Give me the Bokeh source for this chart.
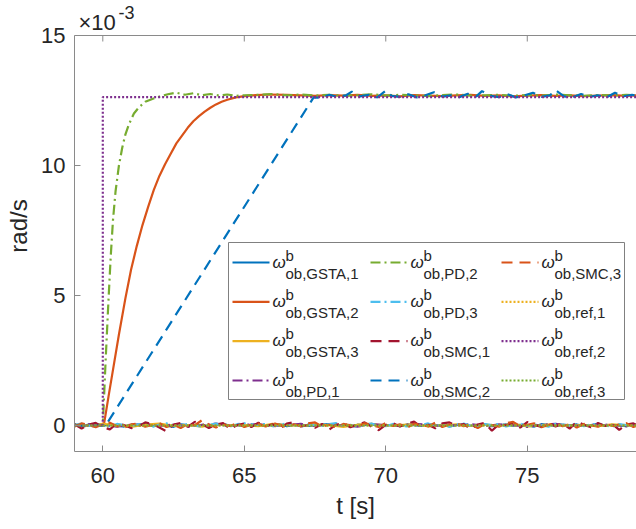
from bokeh.plotting import figure
from bokeh.models import (FixedTicker, Label, Arrow, BoxAnnotation, Span, Range1d)
from bokeh.embed import file_html
from bokeh.resources import INLINE

# ---------------- data (values in units of 1e-3 rad/s) ----------------
x_ticks = [60, 65, 70, 75]
y_ticks = [0, 5, 10, 15]
y_top = 15

t_n = [59.0, 59.25, 59.5, 59.75, 60.0, 60.25, 60.5, 60.75, 61.0,
       61.25, 61.5, 61.75, 62.0, 62.25, 62.5, 62.75, 63.0, 63.25,
       63.5, 63.75, 64.0, 64.25, 64.5, 64.75, 65.0, 65.25, 65.5,
       65.75, 66.0, 66.25, 66.5, 66.75, 67.0, 67.25, 67.5, 67.75,
       68.0, 68.25, 68.5, 68.75, 69.0, 69.25, 69.5, 69.75, 70.0,
       70.25, 70.5, 70.75, 71.0, 71.25, 71.5, 71.75, 72.0, 72.25,
       72.5, 72.75, 73.0, 73.25, 73.5, 73.75, 74.0, 74.25, 74.5,
       74.75, 75.0, 75.25, 75.5, 75.75, 76.0, 76.25, 76.5, 76.75,
       77.0, 77.25, 77.5, 77.75, 78.0, 78.25, 78.5, 78.75, 79.0]

gsta1 = [0.02, -0.03, 0.04, 0.01, -0.02, 0.05, 0.00, -0.04, 0.03,
         0.01, 0.05, -0.02, 0.03, 0.00, -0.05, 0.04, 0.02, -0.01,
         0.03, -0.04, 0.02, 0.06, -0.01, 0.02, -0.03, 0.04, 0.00,
         -0.02, 0.03, 0.05, -0.03, 0.01, 0.04, -0.02, 0.00, 0.03,
         0.05, -0.01, 0.02, -0.04, 0.03, 0.01, 0.06, -0.02, 0.00,
         0.02, -0.03, 0.04, 0.01, -0.02, 0.05, 0.00, 0.03, -0.04,
         0.01, 0.04, -0.02, 0.02, 0.05, -0.03, 0.01, 0.04, -0.01,
         0.03, 0.00, -0.04, 0.05, 0.02, -0.02, 0.03, 0.01, 0.04,
         -0.02, 0.02, 0.05, -0.01, 0.03, 0.00, -0.03, 0.04, 0.01]

pd3 = [0.03, 0.07, -0.02, 0.05, 0.00, -0.04, 0.06, 0.02, -0.03,
       0.05, 0.01, -0.06, 0.04, 0.08, 0.02, -0.03, 0.06, 0.00,
       -0.05, 0.03, 0.07, 0.01, -0.04, 0.05, 0.09, -0.02, 0.04,
       0.06, -0.03, 0.02, 0.08, 0.03, -0.05, 0.04, 0.01, -0.02,
       0.05, 0.09, -0.01, 0.03, -0.06, 0.04, 0.07, 0.00, -0.03,
       0.06, 0.02, -0.04, 0.05, 0.01, 0.08, -0.02, 0.03, -0.05,
       0.04, 0.07, 0.00, -0.03, 0.05, 0.02, 0.06, -0.04, 0.03,
       0.08, -0.02, 0.04, 0.01, -0.05, 0.06, 0.03, -0.01, 0.05,
       -0.03, 0.04, 0.07, 0.00, -0.04, 0.05, 0.02, 0.06, -0.02]

smc1 = [0.05, -0.12, 0.03, 0.10, -0.06, -0.15, 0.08, 0.02, -0.10,
        -0.04, 0.12, 0.06, -0.08, -0.22, 0.04, 0.10, -0.05, 0.14,
        0.06, -0.10, 0.03, 0.09, -0.14, 0.02, 0.08, -0.06, 0.11,
        -0.03, 0.05, -0.12, 0.07, 0.13, -0.04, 0.02, -0.09, 0.06,
        -0.16, 0.03, 0.10, -0.07, 0.04, 0.12, -0.05, -0.18, 0.02,
        0.09, -0.04, 0.07, 0.15, -0.06, 0.03, -0.11, 0.08, 0.12,
        -0.03, 0.06, -0.14, 0.04, 0.10, -0.20, 0.05, 0.01, 0.09,
        -0.08, 0.13, 0.02, -0.06, 0.11, -0.04, 0.07, -0.12, 0.15,
        0.03, -0.07, 0.10, -0.02, 0.06, -0.17, 0.04, 0.08, -0.05]

smc3 = [-0.04, 0.08, 0.02, -0.07, 0.05, 0.11, -0.03, -0.09, 0.04,
        0.07, -0.05, 0.02, 0.09, -0.06, 0.03, -0.10, 0.06, 0.01,
        0.20, 0.04, -0.08, 0.05, -0.02, 0.09, -0.06, 0.03, 0.07,
        -0.04, 0.10, 0.02, -0.07, 0.05, -0.03, 0.08, 0.12, -0.05,
        0.03, -0.08, 0.06, 0.01, -0.05, 0.09, 0.02, -0.06, 0.10,
        -0.02, 0.05, -0.09, 0.07, 0.03, -0.04, 0.11, -0.06, 0.04,
        0.08, -0.03, 0.05, -0.10, 0.06, 0.02, -0.05, 0.09, 0.14,
        -0.04, 0.03, 0.08, -0.07, 0.02, 0.10, -0.03, 0.05, -0.08,
        0.06, 0.01, -0.05, 0.08, -0.02, 0.04, 0.09, -0.06, 0.03]

t_h = [59.0, 59.5, 60.0, 60.5, 61.0, 61.5, 62.0, 62.5, 63.0, 63.5,
       64.0, 64.5, 65.0, 65.5, 66.0, 66.5, 67.0, 67.5, 68.0, 68.5,
       69.0, 69.5, 70.0, 70.5, 71.0, 71.5, 72.0, 72.5, 73.0, 73.5,
       74.0, 74.5, 75.0, 75.5, 76.0, 76.5, 77.0, 77.5, 78.0, 78.5,
       79.0]
gsta3 = [0.04, -0.02, 0.06, 0.01, -0.05, 0.03, 0.07, -0.01, 0.02, -0.04,
         0.05, 0.00, 0.03, -0.03, 0.06, 0.02, -0.02, 0.04, 0.01, -0.05,
         0.03, 0.06, -0.01, 0.02, 0.05, -0.03, 0.01, 0.04, -0.02, 0.03,
         0.00, 0.06, -0.04, 0.02, 0.05, -0.01, 0.03, -0.03, 0.04, 0.01,
         -0.02]
pd1 = [-0.02, 0.05, 0.01, -0.04, 0.03, 0.06, -0.02, 0.04, -0.05, 0.02,
       0.07, -0.01, 0.03, 0.05, -0.03, 0.01, 0.06, -0.02, 0.04, 0.00,
       -0.04, 0.05, 0.02, -0.01, 0.06, 0.03, -0.03, 0.02, 0.05, -0.02,
       0.04, 0.01, -0.05, 0.03, 0.06, 0.00, -0.02, 0.05, 0.02, -0.03,
       0.04]

gsta2_t = [59.0, 59.3, 59.6, 59.9, 60.05, 60.2, 60.4, 60.57, 60.8, 61.0,
           61.2, 61.4, 61.6, 61.8, 62.0, 62.2, 62.4, 62.6, 62.8, 63.0,
           63.2, 63.4, 63.6, 63.8, 64.0, 64.2, 64.4, 64.7, 65.0, 65.4,
           65.9, 66.5, 67.0, 67.5, 68.0, 68.5, 69.0, 69.5, 70.0, 70.5,
           71.0, 71.5, 72.0, 72.5, 73.0, 73.5, 74.0, 74.5, 75.0, 75.5,
           76.0, 76.5, 77.0, 77.5, 78.0, 78.5, 79.0]
gsta2 = [0.04, -0.05, 0.06, 0.00, 0.10, 1.10, 2.40, 3.50, 4.90, 6.00,
         6.90, 7.70, 8.40, 9.05, 9.60, 10.05, 10.45, 10.85, 11.15, 11.45,
         11.70, 11.90, 12.07, 12.22, 12.35, 12.45, 12.53, 12.62, 12.67, 12.71,
         12.73, 12.72, 12.70, 12.68, 12.71, 12.69, 12.72, 12.68, 12.70, 12.66,
         12.71, 12.69, 12.67, 12.70, 12.72, 12.68, 12.70, 12.66, 12.69, 12.71,
         12.68, 12.70, 12.67, 12.69, 12.71, 12.68, 12.70]

pd2_t = [59.0, 59.3, 59.6, 59.9, 60.0, 60.1, 60.2, 60.28, 60.36, 60.45,
         60.57, 60.69, 60.8, 60.93, 61.1, 61.28, 61.5, 61.75, 62.0, 62.3,
         62.6, 62.9, 63.2, 63.5, 63.8, 64.1, 64.4, 64.7, 65.0, 65.5,
         66.0, 66.5, 67.0, 67.5, 68.0, 68.5, 69.0, 69.5, 70.0, 70.5,
         71.0, 71.5, 72.0, 72.5, 73.0, 73.5, 74.0, 74.5, 75.0, 75.5,
         76.0, 76.5, 77.0, 77.5, 78.0, 78.5, 79.0]
pd2 = [-0.03, 0.05, -0.02, 0.03, 0.00, 2.50, 4.80, 6.50, 7.90, 9.00,
       10.00, 10.70, 11.20, 11.60, 12.00, 12.24, 12.45, 12.56, 12.65, 12.74,
       12.80, 12.72, 12.78, 12.70, 12.75, 12.69, 12.73, 12.68, 12.70, 12.72,
       12.75, 12.70, 12.73, 12.69, 12.72, 12.68, 12.71, 12.74, 12.69, 12.72,
       12.70, 12.67, 12.71, 12.73, 12.69, 12.70, 12.72, 12.68, 12.71, 12.69,
       12.73, 12.70, 12.68, 12.71, 12.69, 12.72, 12.70]

smc2_t = [59.0, 59.5, 60.0, 60.1, 67.45, 67.7, 68.0, 68.3, 68.6, 68.8,
          69.1, 69.4, 69.7, 70.0, 70.2, 70.5, 70.8, 71.1, 71.4, 71.7,
          72.0, 72.3, 72.6, 72.9, 73.2, 73.4, 73.7, 74.0, 74.3, 74.6,
          74.9, 75.2, 75.5, 75.8, 76.0, 76.3, 76.6, 76.9, 77.2, 77.5,
          77.8, 78.1, 78.4, 78.7, 79.0]
smc2 = [0.03, -0.04, 0.02, 0.00, 12.62, 12.60, 12.72, 12.64, 12.70, 12.84,
        12.66, 12.72, 12.62, 12.88, 12.68, 12.64, 12.74, 12.62, 12.70, 12.82,
        12.65, 12.70, 12.63, 12.76, 12.66, 12.86, 12.68, 12.63, 12.74, 12.62,
        12.70, 12.80, 12.64, 12.70, 12.90, 12.66, 12.63, 12.75, 12.64, 12.70,
        12.62, 12.80, 12.66, 12.72, 12.64]

ref_t = [59.0, 79.0]
ref1 = [0.0, 0.0]
ref3 = [0.0, 0.0]
ref2_t = [59.0, 60.0, 60.0, 79.0]
ref2 = [0.0, 0.0, 12.63, 12.63]

legend_subs = ["ob,GSTA,1", "ob,GSTA,2", "ob,GSTA,3", "ob,PD,1",
               "ob,PD,2", "ob,PD,3", "ob,SMC,1", "ob,SMC,2",
               "ob,SMC,3", "ob,ref,1", "ob,ref,2", "ob,ref,3"]

# ---------------- styles ----------------
BLUE, ORANGE, YELLOW = "#0072BD", "#D95319", "#EDB120"
PURPLE, GREEN, CYAN, RED = "#7E2F8E", "#77AC30", "#4DBEEE", "#A2142F"
SOLID, DASHDOT, DASHED, DOTTED = "solid", "10 4 2 4", "11 7", "2 2"
LW = 2.2

series = [
    (t_n, gsta1, BLUE, SOLID),
    (gsta2_t, gsta2, ORANGE, SOLID),
    (t_h, gsta3, YELLOW, SOLID),
    (t_h, pd1, PURPLE, DASHDOT),
    (pd2_t, pd2, GREEN, DASHDOT),
    (t_n, pd3, CYAN, DASHDOT),
    (t_n, smc1, RED, DASHED),
    (smc2_t, smc2, BLUE, DASHED),
    (t_n, smc3, ORANGE, DASHED),
    (ref_t, ref1, YELLOW, DOTTED),
    (ref2_t, ref2, PURPLE, DOTTED),
    (ref_t, ref3, GREEN, DOTTED),
]

FONT = "Liberation Sans"
TXT = "#262626"
AXC = "#8a8a8a"
PX_PER_Y = 26.0      # frame pixels per 1e-3 rad/s
TOP_MARGIN = 35      # pixels between window top and the y=15 box edge
MID = 0.3465         # baseline offset below the text-box middle, in em

p = figure(width=636, height=529, title=None,
           x_range=Range1d(59, 78.86), y_range=Range1d(-1, y_top + TOP_MARGIN / PX_PER_Y),
           output_backend="svg", toolbar_location=None,
           min_border_left=74, min_border_right=0, min_border_top=0, min_border_bottom=78)
p.outline_line_color = None
p.grid.visible = False
p.background_fill_color = "white"
p.border_fill_color = "white"

for xs, ys, c, d in series:
    p.line(xs, ys, line_color=c, line_width=LW, line_dash=d)


def style_axis(ax, ticks):
    ax.ticker = FixedTicker(ticks=ticks)
    ax.minor_tick_line_color = None
    ax.major_tick_in = 6
    ax.major_tick_out = 0
    ax.major_tick_line_color = AXC
    ax.axis_line_color = AXC
    ax.axis_line_width = 1
    ax.major_label_text_font = FONT
    ax.major_label_text_font_size = "22px"
    ax.major_label_text_color = TXT
    ax.axis_label_text_font = FONT
    ax.axis_label_text_font_size = "24px"
    ax.axis_label_text_font_style = "normal"
    ax.axis_label_text_color = TXT


style_axis(p.xaxis[0], x_ticks)
style_axis(p.yaxis[0], y_ticks)
p.yaxis[0].bounds = (-1, y_top)
p.xaxis[0].axis_label = "t [s]"
p.yaxis[0].axis_label = "rad/s"
p.xaxis[0].major_label_standoff = 16
p.xaxis[0].axis_label_standoff = 6
p.yaxis[0].major_label_standoff = 9
p.yaxis[0].axis_label_standoff = 6

# top edge of the box with inward ticks
p.add_layout(Span(location=y_top, dimension="width", line_color=AXC, line_width=1))
p.segment(x0=x_ticks, y0=[y_top] * len(x_ticks), x1=x_ticks,
          y1=[y_top - 6 / PX_PER_Y] * len(x_ticks), line_color=AXC, line_width=1)


def text(x, baseline, s, size, style="normal"):
    """Label whose alphabetic baseline sits at `baseline` (frame px, upward)."""
    p.add_layout(Label(x=x, y=baseline + MID * size, x_units="screen", y_units="screen",
                       text=s, text_font=FONT, text_font_size=f"{size}px",
                       text_font_style=style, text_color=TXT,
                       text_baseline="middle", text_align="left"))


# exponent label
text(4, 421, "×10", 22)
text(44, 433, "-3", 18)

# ---------------- legend ----------------
p.add_layout(BoxAnnotation(left=154, right=550, top=209, bottom=52,
                           left_units="screen", right_units="screen",
                           top_units="screen", bottom_units="screen",
                           fill_color="white", fill_alpha=1.0,
                           line_color="#808080", line_width=1, line_alpha=1.0))

col_x = [158, 296, 427]
row_y = [189, 149.7, 110.4, 71.0]
SAMPLE = 37
for i, (sub, (xs, ys, c, d)) in enumerate(zip(legend_subs, series)):
    col, row = i // 4, i % 4
    x0, y0 = col_x[col], row_y[row]
    p.add_layout(Arrow(x_start=x0, y_start=y0, x_end=x0 + SAMPLE, y_end=y0,
                       start_units="screen", end_units="screen", start=None, end=None,
                       line_color=c, line_width=LW, line_dash=d))
    xw = x0 + SAMPLE + 3
    text(xw, y0 - 5.7, "ω", 17, "italic")
    text(xw + 13, y0 + 2, "b", 15)
    text(xw + 13, y0 - 16, sub, 15)

open("out.html", "w").write(file_html(p, INLINE))
